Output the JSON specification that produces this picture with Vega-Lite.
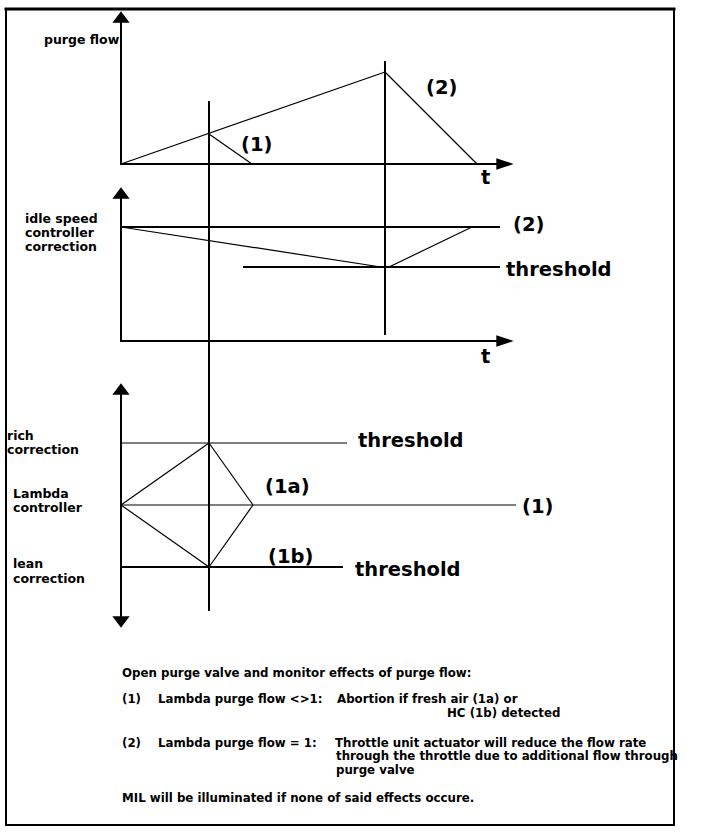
{
  "$schema": "https://vega.github.io/schema/vega-lite/v6.json",
  "width": 704,
  "height": 834,
  "autosize": {"type": "none"},
  "padding": 0,
  "background": "white",
  "config": {"view": {"stroke": null}},
  "datasets": {
    "segments": [
      {"x": 6, "y": 9, "x2": 674, "y2": 9, "kind": "frametop"},
      {"x": 6, "y": 9, "x2": 6, "y2": 825, "kind": "frame"},
      {"x": 674, "y": 9, "x2": 674, "y2": 825, "kind": "frame"},
      {"x": 6, "y": 825, "x2": 674, "y2": 825, "kind": "frame"},
      {"x": 121, "y": 22, "x2": 121, "y2": 164, "kind": "thick"},
      {"x": 121, "y": 164, "x2": 497, "y2": 164, "kind": "thick"},
      {"x": 209, "y": 102, "x2": 209, "y2": 610, "kind": "thick"},
      {"x": 385, "y": 62, "x2": 385, "y2": 334, "kind": "thick"},
      {"x": 121, "y": 164, "x2": 385, "y2": 72, "kind": "thin"},
      {"x": 209, "y": 134, "x2": 252, "y2": 164, "kind": "thin"},
      {"x": 385, "y": 72, "x2": 477, "y2": 164, "kind": "thin"},
      {"x": 121, "y": 198, "x2": 121, "y2": 341, "kind": "thick"},
      {"x": 121, "y": 341, "x2": 497, "y2": 341, "kind": "thick"},
      {"x": 121, "y": 227, "x2": 499, "y2": 227, "kind": "thick"},
      {"x": 244, "y": 267, "x2": 499, "y2": 267, "kind": "thick"},
      {"x": 121, "y": 227, "x2": 381, "y2": 267, "kind": "thin"},
      {"x": 389, "y": 267, "x2": 472, "y2": 227, "kind": "thin"},
      {"x": 121, "y": 394, "x2": 121, "y2": 617, "kind": "thick"},
      {"x": 121, "y": 443, "x2": 347, "y2": 443, "kind": "thin"},
      {"x": 121, "y": 505, "x2": 516, "y2": 505, "kind": "thin"},
      {"x": 121, "y": 567, "x2": 342, "y2": 567, "kind": "thick"},
      {"x": 121, "y": 505, "x2": 209, "y2": 443, "kind": "thin"},
      {"x": 209, "y": 443, "x2": 253, "y2": 505, "kind": "thin"},
      {"x": 253, "y": 505, "x2": 209, "y2": 567, "kind": "thin"},
      {"x": 209, "y": 567, "x2": 121, "y2": 505, "kind": "thin"}
    ],
    "arrows": [
      {"x": 121, "y": 17, "dir": "up"},
      {"x": 505, "y": 164, "dir": "right"},
      {"x": 121, "y": 193, "dir": "up"},
      {"x": 505, "y": 341, "dir": "right"},
      {"x": 121, "y": 389, "dir": "up"},
      {"x": 121, "y": 622, "dir": "down"}
    ],
    "labels": [
      {"x": 44, "y": 40, "text": "purge flow", "kind": "small"},
      {"x": 25, "y": 219, "text": "idle speed", "kind": "small"},
      {"x": 25, "y": 233, "text": "controller", "kind": "small"},
      {"x": 25, "y": 247, "text": "correction", "kind": "small"},
      {"x": 7, "y": 436, "text": "rich", "kind": "small"},
      {"x": 7, "y": 450, "text": "correction", "kind": "small"},
      {"x": 13, "y": 494, "text": "Lambda", "kind": "small"},
      {"x": 13, "y": 508, "text": "controller", "kind": "small"},
      {"x": 13, "y": 564, "text": "lean", "kind": "small"},
      {"x": 13, "y": 579, "text": "correction", "kind": "small"},
      {"x": 241, "y": 145, "text": "(1)", "kind": "big"},
      {"x": 426, "y": 88, "text": "(2)", "kind": "big"},
      {"x": 481, "y": 178, "text": "t", "kind": "big"},
      {"x": 513, "y": 225, "text": "(2)", "kind": "big"},
      {"x": 506, "y": 270, "text": "threshold", "kind": "big"},
      {"x": 481, "y": 357, "text": "t", "kind": "big"},
      {"x": 358, "y": 441, "text": "threshold", "kind": "big"},
      {"x": 265, "y": 487, "text": "(1a)", "kind": "big"},
      {"x": 522, "y": 507, "text": "(1)", "kind": "big"},
      {"x": 268, "y": 557, "text": "(1b)", "kind": "big"},
      {"x": 355, "y": 570, "text": "threshold", "kind": "big"},
      {"x": 122, "y": 673, "text": "Open purge valve and monitor effects of purge flow:", "kind": "note"},
      {"x": 122, "y": 699, "text": "(1)", "kind": "note"},
      {"x": 158, "y": 699, "text": "Lambda purge flow <>1:", "kind": "note"},
      {"x": 337, "y": 699, "text": "Abortion if fresh air (1a) or", "kind": "note"},
      {"x": 447, "y": 713, "text": "HC (1b) detected", "kind": "note"},
      {"x": 122, "y": 743, "text": "(2)", "kind": "note"},
      {"x": 158, "y": 743, "text": "Lambda purge flow = 1:", "kind": "note"},
      {"x": 335, "y": 743, "text": "Throttle unit actuator will reduce the flow rate", "kind": "note"},
      {"x": 336, "y": 756, "text": "through the throttle due to additional flow through", "kind": "note"},
      {"x": 336, "y": 770, "text": "purge valve", "kind": "note"},
      {"x": 122, "y": 798, "text": "MIL will be illuminated if none of said effects occure.", "kind": "note"}
    ]
  },
  "encoding": {
    "x": {"field": "x", "type": "quantitative", "scale": {"domain": [0, 704], "nice": false, "zero": false}, "axis": null},
    "y": {"field": "y", "type": "quantitative", "scale": {"domain": [0, 834], "reverse": true, "nice": false, "zero": false}, "axis": null}
  },
  "layer": [
    {
      "data": {"name": "segments"},
      "transform": [{"filter": "datum.kind === 'frametop'"}],
      "mark": {"type": "rule", "color": "black", "strokeCap": "square", "strokeWidth": 3},
      "encoding": {"x2": {"field": "x2"}, "y2": {"field": "y2"}}
    },
    {
      "data": {"name": "segments"},
      "transform": [{"filter": "datum.kind === 'frame' || datum.kind === 'thick'"}],
      "mark": {"type": "rule", "color": "black", "strokeCap": "square", "strokeWidth": 2},
      "encoding": {"x2": {"field": "x2"}, "y2": {"field": "y2"}}
    },
    {
      "data": {"name": "segments"},
      "transform": [{"filter": "datum.kind === 'thin'"}],
      "mark": {"type": "rule", "color": "black", "strokeCap": "butt", "strokeWidth": 1.2},
      "encoding": {"x2": {"field": "x2"}, "y2": {"field": "y2"}}
    },
    {
      "data": {"name": "arrows"},
      "mark": {"type": "point", "filled": true, "color": "black", "opacity": 1, "size": 300, "strokeWidth": 0},
      "encoding": {
        "shape": {"field": "dir", "type": "nominal", "scale": {"domain": ["up", "down", "right"], "range": ["M-1,0.67L1,0.67L0,-0.67Z", "M-1,-0.67L1,-0.67L0,0.67Z", "M-1,-0.67L1,0L-1,0.67Z"]}, "legend": null}
      }
    },
    {
      "data": {"name": "labels"},
      "transform": [{"filter": "datum.kind === 'small'"}],
      "mark": {"type": "text", "align": "left", "baseline": "middle", "font": "DejaVu Sans", "fontWeight": "bold", "color": "black", "fontSize": 12.5},
      "encoding": {"text": {"field": "text"}}
    },
    {
      "data": {"name": "labels"},
      "transform": [{"filter": "datum.kind === 'big'"}],
      "mark": {"type": "text", "align": "left", "baseline": "middle", "font": "DejaVu Sans", "fontWeight": "bold", "color": "black", "fontSize": 19.5},
      "encoding": {"text": {"field": "text"}}
    },
    {
      "data": {"name": "labels"},
      "transform": [{"filter": "datum.kind === 'note'"}],
      "mark": {"type": "text", "align": "left", "baseline": "middle", "font": "DejaVu Sans", "fontWeight": "bold", "color": "black", "fontSize": 11.8},
      "encoding": {"text": {"field": "text"}}
    }
  ]
}
